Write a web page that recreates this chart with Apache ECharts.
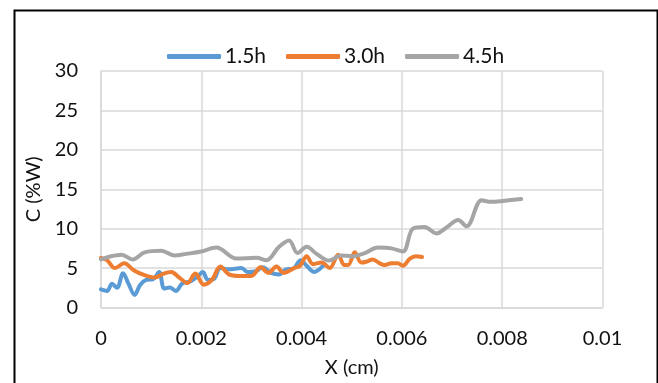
<!DOCTYPE html>
<html>
<head>
<meta charset="utf-8">
<script src="https://cdn.jsdelivr.net/npm/echarts@6/dist/echarts.min.js"></script>
<style>
  html, body { margin: 0; padding: 0; background: #fff; }
  #chart { width: 658px; height: 383px; }
</style>
</head>
<body>
<div id="chart"></div>
<script>
// Concentration profiles C (%W) against depth X (cm) for three treatment times
const seriesNames = ['1.5h', '3.0h', '4.5h'];
const seriesColors = ['#5B9BD5', '#ED7D31', '#A5A5A5'];

const x15 = [0, 0.00012, 0.00022, 0.00032, 0.00044, 0.00055, 0.00067, 0.00078, 0.0009, 0.00104,
  0.00116, 0.00126, 0.00137, 0.00149, 0.00162, 0.00178, 0.00192, 0.00203, 0.00213, 0.00225,
  0.00238, 0.00255, 0.0028, 0.00293, 0.00309, 0.00322, 0.00339, 0.00355, 0.00368, 0.00385,
  0.00398, 0.0041, 0.00425, 0.00443];
const y15 = [2.3, 2.1, 3.0, 2.5, 4.35, 3.0, 1.6, 2.85, 3.5, 3.6,
  4.5, 2.4, 2.55, 2.1, 3.05, 3.3, 3.9, 4.5, 3.5, 3.6,
  5.0, 4.85, 5.0, 4.5, 4.6, 5.1, 4.4, 4.2, 4.8, 5.0,
  6.0, 5.3, 4.5, 5.3];

const x30 = [0, 0.00012, 0.00028, 0.00046, 0.00066, 0.00087, 0.00107, 0.00125, 0.0014, 0.00156,
  0.00172, 0.00188, 0.00205, 0.00221, 0.00238, 0.00255, 0.00276, 0.003, 0.00318, 0.00334,
  0.0035, 0.00364, 0.00385, 0.00397, 0.0041, 0.00423, 0.0044, 0.00456, 0.00473, 0.00485,
  0.00493, 0.00506, 0.00519, 0.00529, 0.00542, 0.00556, 0.00566, 0.00579, 0.00592, 0.00602,
  0.00616, 0.00628, 0.0064];
const y30 = [6.3, 6.0, 5.0, 5.6, 4.7, 4.1, 3.8, 4.3, 4.5, 3.8,
  3.1, 4.3, 2.9, 3.5, 5.2, 4.2, 4.0, 4.0, 5.1, 4.4,
  5.2, 4.4, 5.0, 5.3, 6.5, 5.5, 5.7, 5.0, 6.7, 5.4,
  5.4, 7.0, 5.7, 5.8, 6.1, 5.6, 5.4, 5.6, 5.6, 5.3,
  6.2, 6.5, 6.4];

const x45 = [0, 0.0002, 0.00041, 0.00063, 0.00087, 0.0012, 0.00146, 0.0017, 0.002, 0.0023,
  0.0027, 0.0031, 0.0033, 0.00355, 0.00375, 0.00392, 0.0041, 0.0043, 0.00455, 0.00478,
  0.005, 0.00526, 0.00552, 0.00579, 0.00602, 0.00622, 0.00645, 0.00669, 0.0069, 0.00712,
  0.00729, 0.00759, 0.00778, 0.00805, 0.00838];
const y45 = [6.1, 6.5, 6.7, 6.1, 7.0, 7.2, 6.6, 6.8, 7.1, 7.6,
  6.2, 6.3, 6.0, 7.7, 8.5, 6.9, 7.7, 6.8, 5.95, 6.6,
  6.5, 6.9, 7.6, 7.5, 7.1, 10.0, 10.2, 9.4, 10.2, 11.1,
  10.3, 13.6, 13.4, 13.55, 13.75];

const xTicks = [0, 0.002, 0.004, 0.006, 0.008, 0.01];
const yTicks = [0, 5, 10, 15, 20, 25, 30];

const xs = [x15, x30, x45];
const ys = [y15, y30, y45];

const FONT = 'Lato, "Liberation Sans", sans-serif';
const TEXT = '#111111';
const GRID_LINE = '#d9d9d9';

const chart = echarts.init(document.getElementById('chart'), null, { renderer: 'canvas' });

chart.setOption({
  animation: false,
  backgroundColor: '#ffffff',
  graphic: [{
    type: 'rect',
    left: 12, top: 8,
    shape: { width: 643, height: 420 },
    style: { fill: 'none', stroke: '#000', lineWidth: 2 },
    silent: true
  }],
  legend: {
    left: 162, top: 41,
    icon: 'roundRect',
    itemWidth: 54, itemHeight: 5, itemGap: 20,
    textStyle: { fontFamily: FONT, fontSize: 21, color: TEXT, padding: [0, 0, 0, -1] },
    data: seriesNames
  },
  grid: { left: 101, right: 55.5, top: 71, bottom: 75.5, outerBoundsMode: 'none', containLabel: false },
  xAxis: {
    type: 'value',
    min: xTicks[0], max: xTicks[xTicks.length - 1],
    interval: xTicks[1] - xTicks[0],
    name: 'X (cm)', nameLocation: 'middle', nameGap: 50,
    nameTextStyle: { fontFamily: FONT, fontSize: 20, color: TEXT },
    axisLine: { show: true, lineStyle: { color: GRID_LINE, width: 1.5 } },
    axisTick: { show: false },
    axisLabel: {
      margin: 21, fontFamily: FONT, fontSize: 20, color: TEXT,
      formatter: v => String(parseFloat(v.toFixed(4)))
    },
    splitLine: { show: true, lineStyle: { color: GRID_LINE, width: 1.5 } }
  },
  yAxis: {
    type: 'value',
    min: yTicks[0], max: yTicks[yTicks.length - 1],
    interval: yTicks[1] - yTicks[0],
    name: 'C (%W)', nameLocation: 'middle', nameGap: 57, nameRotate: 90,
    nameTextStyle: { fontFamily: FONT, fontSize: 20, color: TEXT },
    axisLine: { show: true, lineStyle: { color: GRID_LINE, width: 1.5 } },
    axisTick: { show: false },
    axisLabel: { margin: 23, fontFamily: FONT, fontSize: 20, color: TEXT },
    splitLine: { show: true, lineStyle: { color: GRID_LINE, width: 1.5 } }
  },
  series: seriesNames.map((name, i) => ({
    name,
    type: 'line',
    smooth: 0.35,
    symbol: 'none',
    color: seriesColors[i],
    lineStyle: { width: 4, color: seriesColors[i], cap: 'round', join: 'round' },
    data: xs[i].map((x, j) => [x, ys[i][j]])
  }))
});
</script>
</body>
</html>
